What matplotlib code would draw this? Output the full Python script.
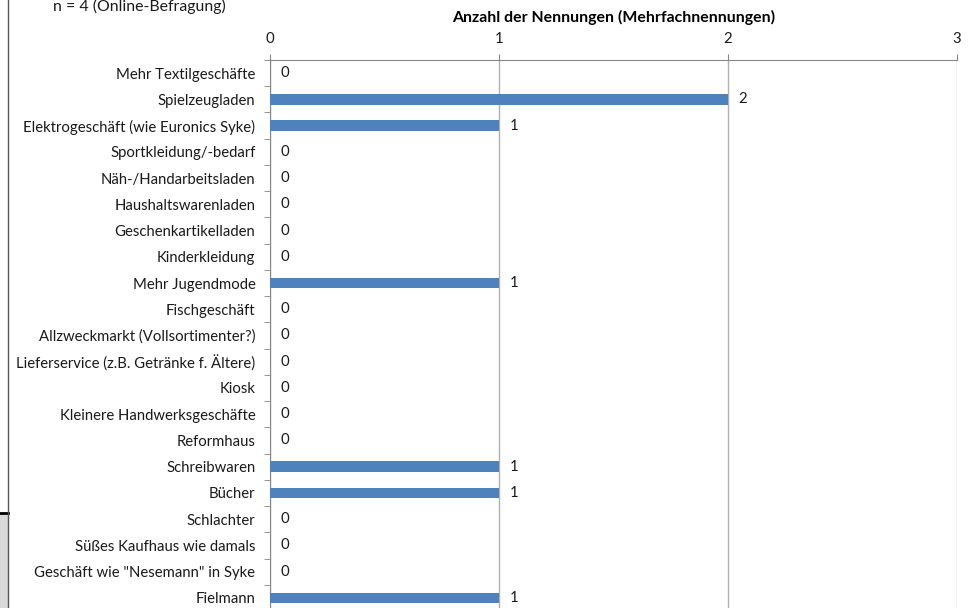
import matplotlib.pyplot as plt
from matplotlib.lines import Line2D
from matplotlib.patches import Rectangle

plt.rcParams['font.family'] = ['Lato', 'DejaVu Sans']
plt.rcParams['font.size'] = 10.7
plt.rcParams['text.color'] = '#1a1a1a'
plt.rcParams['xtick.labelcolor'] = '#1a1a1a'
plt.rcParams['ytick.labelcolor'] = '#1a1a1a'

categories = [
    'Mehr Textilgeschäfte',
    'Spielzeugladen',
    'Elektrogeschäft (wie Euronics Syke)',
    'Sportkleidung/-bedarf',
    'Näh-/Handarbeitsladen',
    'Haushaltswarenladen',
    'Geschenkartikelladen',
    'Kinderkleidung',
    'Mehr Jugendmode',
    'Fischgeschäft',
    'Allzweckmarkt (Vollsortimenter?)',
    'Lieferservice (z.B. Getränke f. Ältere)',
    'Kiosk',
    'Kleinere Handwerksgeschäfte',
    'Reformhaus',
    'Schreibwaren',
    'Bücher',
    'Schlachter',
    'Süßes Kaufhaus wie damals',
    'Geschäft wie "Nesemann" in Syke',
    'Fielmann',
]
counts = [0, 2, 1, 0, 0, 0, 0, 0, 1, 0, 0, 0, 0, 0, 0, 1, 1, 0, 0, 0, 1]
x_ticks = [0, 1, 2, 3]

fig = plt.figure(figsize=(9.74, 6.08), dpi=100)
ax = fig.add_axes([270 / 974, -3 / 608, 687 / 974, 551 / 608])

pos = list(range(len(categories)))
ax.barh(pos, counts, height=0.4, color='#4F81BD', zorder=3)
for p, c in zip(pos, counts):
    ax.text(c + 0.045, p, str(c), va='center', ha='left')

ax.set_xlim(0, 3)
ax.set_ylim(len(categories) - 0.5, -0.5)
ax.set_xticks(x_ticks)
ax.xaxis.tick_top()
ax.xaxis.set_label_position('top')
ax.set_xlabel('Anzahl der Nennungen (Mehrfachnennungen)', fontweight='bold', fontsize=11.4, labelpad=7)
ax.set_yticks(pos)
ax.set_yticklabels(categories)
ax.set_yticks([p + 0.5 for p in pos[:-1]] + [-0.5], minor=True)
ax.tick_params(axis='y', which='major', length=0, pad=10.5)
ax.tick_params(axis='y', which='minor', length=4, color='#868686')
ax.tick_params(axis='x', length=4, color='#868686', pad=6)
ax.grid(axis='x', color='#b0b0b0', linewidth=1, zorder=0)
for s in ['right', 'bottom']:
    ax.spines[s].set_visible(False)
ax.spines['left'].set_color('#868686')
ax.spines['top'].set_color('#868686')

fig.text(53 / 974, 1 - 6 / 608, 'n = 4 (Online-Befragung)', fontsize=11.4, va='center', ha='left')

# frame edge on the left and the grey strip below it
fig.add_artist(Rectangle((0, 0), 8 / 974, 95 / 608, transform=fig.transFigure,
                         facecolor='#d9d9d9', edgecolor='none'))
fig.add_artist(Line2D([0, 8 / 974], [95 / 608, 95 / 608], transform=fig.transFigure,
                      color='black', linewidth=2))
fig.add_artist(Line2D([8 / 974, 8 / 974], [0, 1], transform=fig.transFigure,
                      color='#555555', linewidth=1))

fig.savefig('out.png', dpi=100)
